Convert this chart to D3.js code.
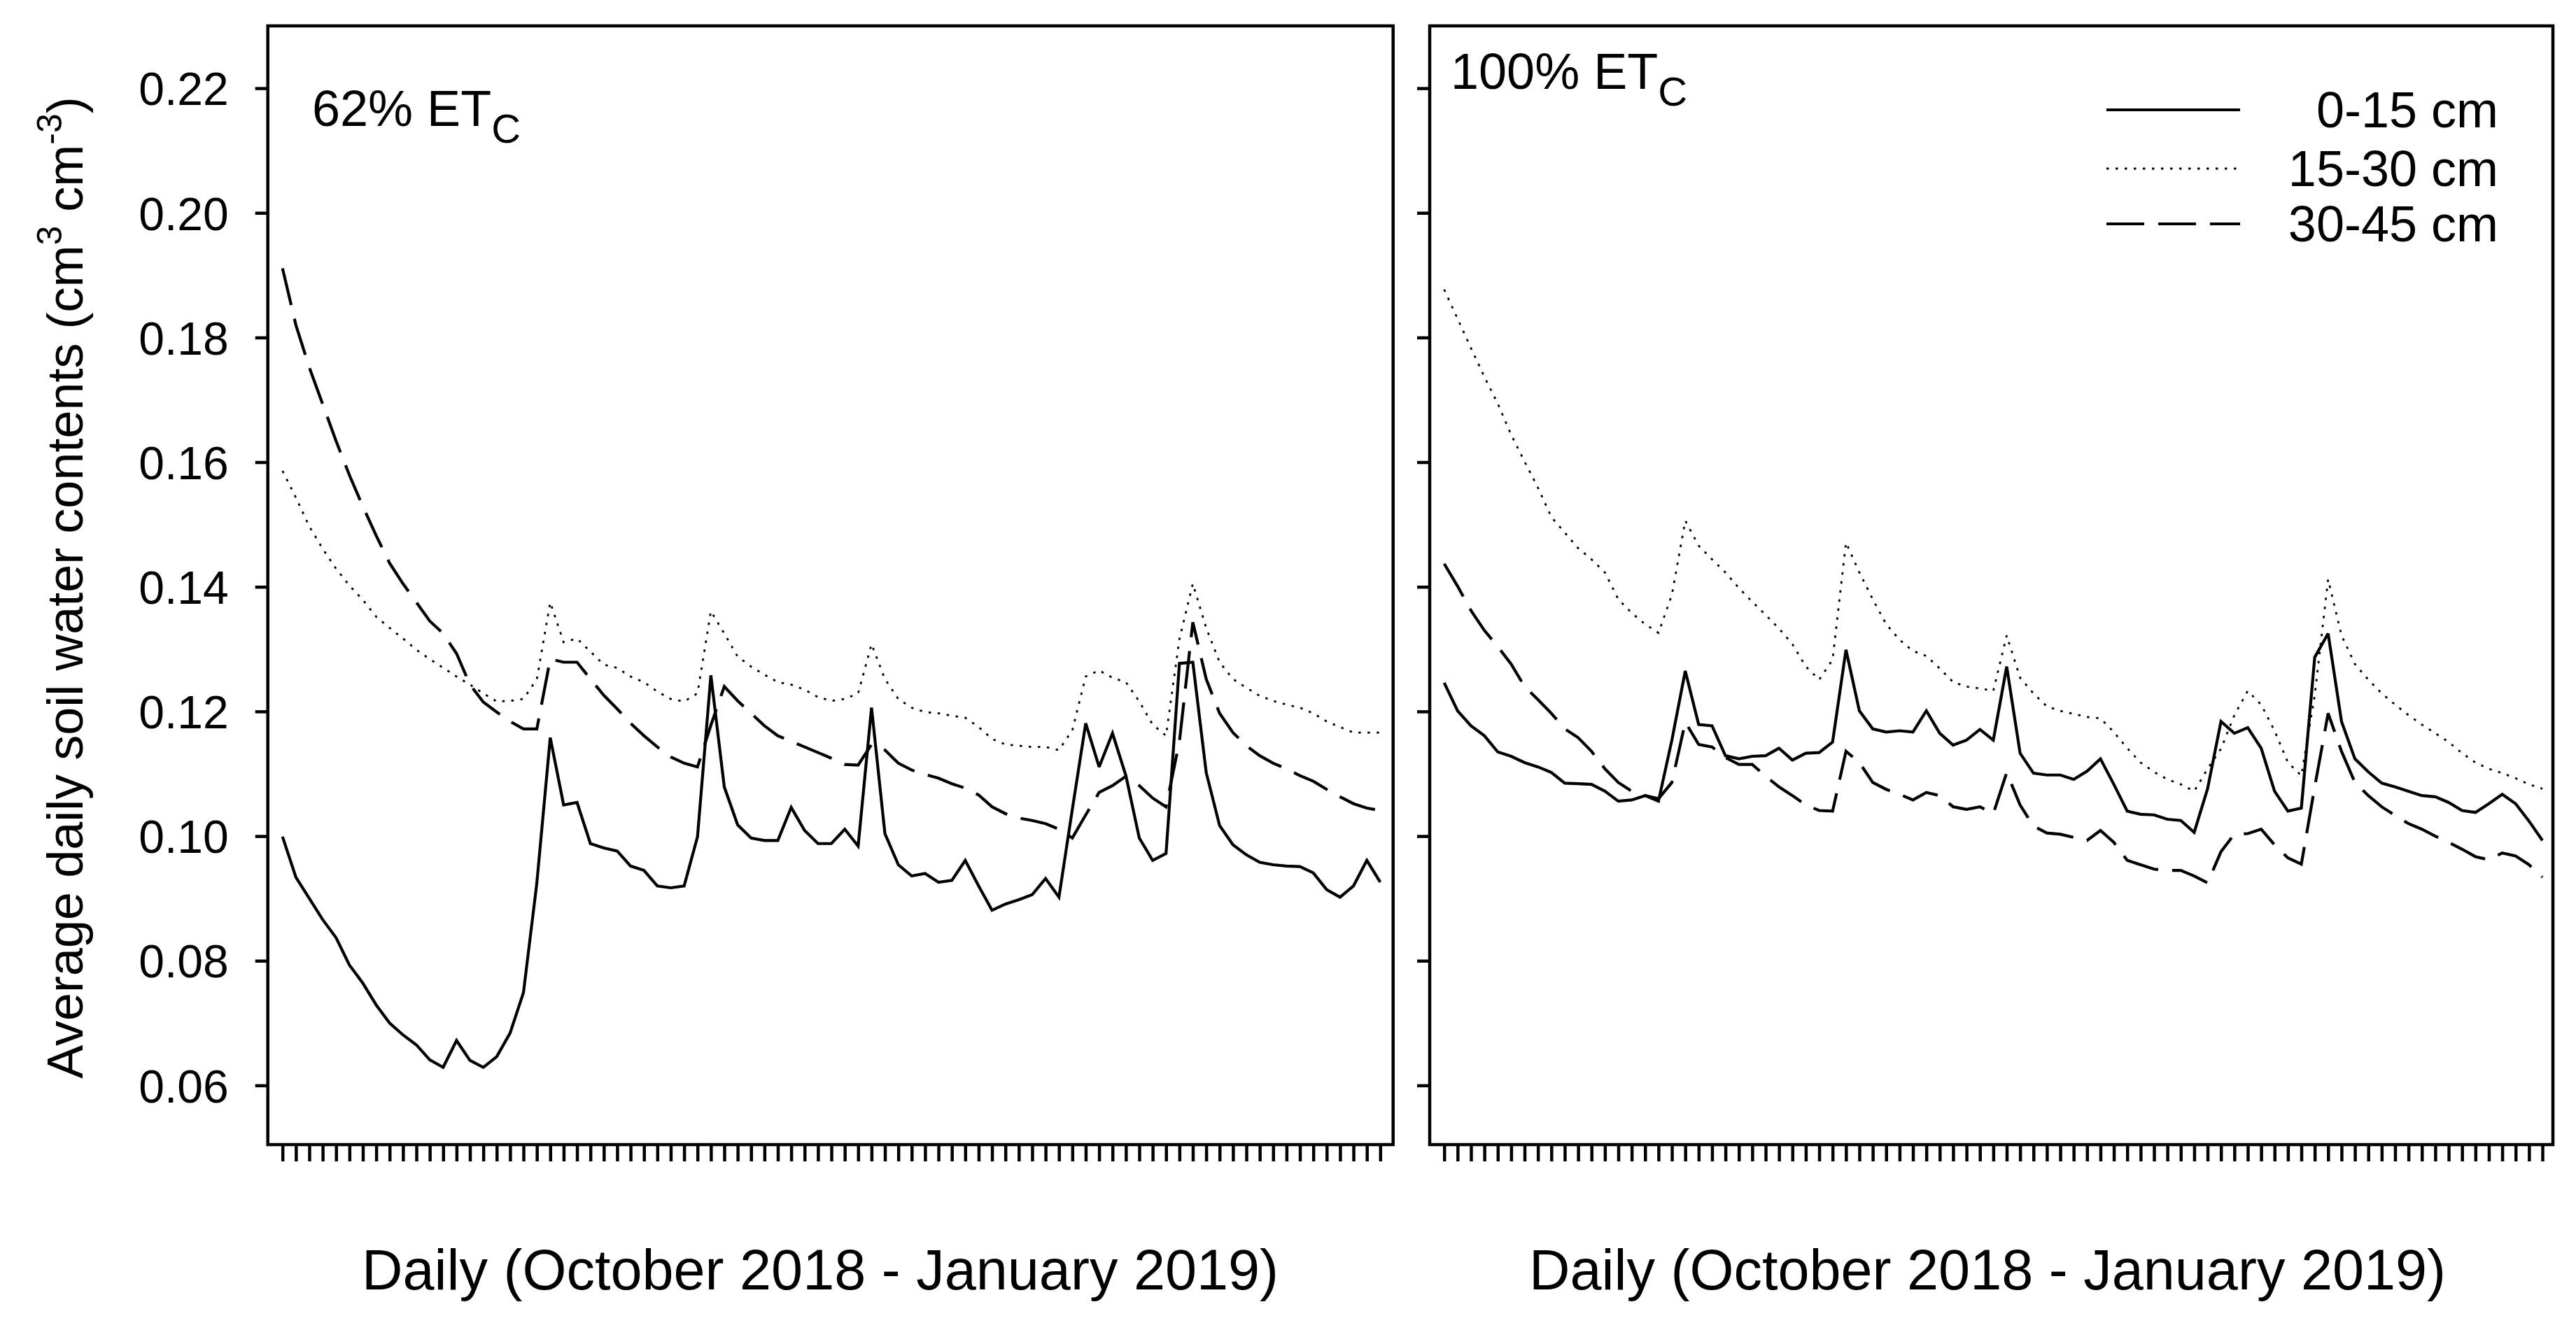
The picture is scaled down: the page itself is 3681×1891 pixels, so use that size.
<!DOCTYPE html>
<html>
<head>
<meta charset="utf-8">
<script src="https://cdn.jsdelivr.net/npm/d3@7/dist/d3.min.js"></script>
<style>
  html, body { margin: 0; padding: 0; background: #fff; }
  svg { display: block; }
  text { font-family: "Liberation Sans", Arial, Helvetica, sans-serif; fill: #000; }
</style>
</head>
<body>
<script>
// ---------------- DATA ----------------
const days = d3.range(83); // daily observations, October 2018 - January 2019
const yTicks = [0.06, 0.08, 0.10, 0.12, 0.14, 0.16, 0.18, 0.20, 0.22];
const seriesNames = ["0-15 cm", "15-30 cm", "30-45 cm"];
const panelTitles = ["62% ET", "100% ET"];

// 62% ETc
const et62_0_15 = [0.0999,0.0934,0.0900,0.0866,0.0837,0.0793,0.0764,0.0729,0.0700,0.0681,
  0.0665,0.0641,0.0629,0.0672,0.0640,0.0629,0.0646,0.0684,0.0749,0.0925,
  0.1158,0.1050,0.1054,0.0988,0.0981,0.0976,0.0952,0.0945,0.0920,0.0917,
  0.0920,0.0999,0.1258,0.1079,0.1018,0.0997,0.0993,0.0993,0.1046,0.1009,
  0.0988,0.0988,0.1011,0.0984,0.1206,0.1004,0.0954,0.0936,0.0940,0.0926,
  0.0929,0.0961,0.0920,0.0881,0.0891,0.0898,0.0906,0.0932,0.0902,0.1043,
  0.1181,0.1111,0.1165,0.1097,0.0997,0.0961,0.0972,0.1277,0.1279,0.1102,
  0.1017,0.0986,0.0970,0.0958,0.0954,0.0952,0.0951,0.0941,0.0914,0.0902,
  0.0920,0.0961,0.0926];
const et62_15_30 = [0.1586,0.1543,0.1497,0.1461,0.1429,0.1402,0.1379,0.1352,0.1334,0.1317,
  0.1299,0.1284,0.1270,0.1256,0.1243,0.1229,0.1216,0.1217,0.1220,0.1252,
  0.1375,0.1311,0.1317,0.1296,0.1275,0.1270,0.1256,0.1247,0.1232,0.1220,
  0.1216,0.1229,0.1361,0.1325,0.1288,0.1272,0.1259,0.1247,0.1243,0.1235,
  0.1223,0.1217,0.1220,0.1229,0.1308,0.1252,0.1220,0.1206,0.1199,0.1197,
  0.1193,0.1190,0.1175,0.1156,0.1147,0.1145,0.1143,0.1143,0.1138,0.1170,
  0.1256,0.1266,0.1254,0.1247,0.1216,0.1179,0.1161,0.1316,0.1405,0.1334,
  0.1279,0.1252,0.1238,0.1225,0.1217,0.1211,0.1206,0.1197,0.1184,0.1175,
  0.1166,0.1166,0.1166];
const et62_30_45 = [0.1911,0.1820,0.1752,0.1693,0.1634,0.1579,0.1529,0.1482,0.1438,0.1405,
  0.1375,0.1345,0.1325,0.1293,0.1243,0.1215,0.1199,0.1184,0.1172,0.1172,
  0.1284,0.1279,0.1279,0.1252,0.1226,0.1204,0.1181,0.1161,0.1143,0.1127,
  0.1117,0.1111,0.1178,0.1240,0.1217,0.1197,0.1177,0.1161,0.1152,0.1143,
  0.1134,0.1125,0.1115,0.1114,0.1147,0.1138,0.1117,0.1106,0.1099,0.1093,
  0.1084,0.1077,0.1066,0.1047,0.1036,0.1029,0.1025,0.1020,0.1011,0.0997,
  0.1034,0.1070,0.1081,0.1096,0.1081,0.1061,0.1047,0.1152,0.1343,0.1252,
  0.1197,0.1166,0.1145,0.1129,0.1117,0.1108,0.1097,0.1088,0.1075,0.1063,
  0.1052,0.1045,0.1041];

// 100% ETc
const et100_0_15 = [0.1246,0.1201,0.1177,0.1161,0.1135,0.1128,0.1118,0.1111,0.1102,0.1085,
  0.1084,0.1083,0.1072,0.1056,0.1058,0.1065,0.1056,0.1154,0.1265,0.1179,
  0.1177,0.1129,0.1124,0.1128,0.1129,0.1141,0.1122,0.1133,0.1134,0.1151,
  0.1299,0.1201,0.1172,0.1167,0.1169,0.1167,0.1201,0.1165,0.1146,0.1154,
  0.1171,0.1154,0.1272,0.1133,0.1101,0.1098,0.1098,0.1091,0.1104,0.1124,
  0.1083,0.1040,0.1035,0.1034,0.1027,0.1025,0.1006,0.1076,0.1184,0.1165,
  0.1174,0.1141,0.1072,0.1040,0.1045,0.1287,0.1325,0.1184,0.1124,0.1103,
  0.1085,0.1079,0.1072,0.1065,0.1063,0.1054,0.1041,0.1038,0.1052,0.1067,
  0.1052,0.1024,0.0993];
const et100_15_30 = [0.1877,0.1830,0.1783,0.1737,0.1694,0.1644,0.1601,0.1559,0.1512,0.1487,
  0.1462,0.1444,0.1423,0.1380,0.1358,0.1340,0.1326,0.1387,0.1506,0.1466,
  0.1444,0.1423,0.1398,0.1376,0.1355,0.1333,0.1308,0.1272,0.1251,0.1283,
  0.1471,0.1423,0.1380,0.1340,0.1315,0.1297,0.1289,0.1269,0.1247,0.1240,
  0.1237,0.1233,0.1322,0.1254,0.1229,0.1208,0.1201,0.1196,0.1191,0.1189,
  0.1167,0.1141,0.1118,0.1103,0.1091,0.1083,0.1072,0.1108,0.1140,0.1194,
  0.1233,0.1211,0.1169,0.1118,0.1097,0.1226,0.1412,0.1322,0.1276,0.1251,
  0.1229,0.1211,0.1194,0.1179,0.1165,0.1151,0.1133,0.1118,0.1108,0.1101,
  0.1093,0.1083,0.1076];
const et100_30_45 = [0.1437,0.1401,0.1362,0.1330,0.1304,0.1276,0.1240,0.1219,0.1197,0.1172,
  0.1158,0.1136,0.1108,0.1086,0.1072,0.1065,0.1060,0.1086,0.1183,0.1147,
  0.1143,0.1126,0.1115,0.1115,0.1096,0.1079,0.1065,0.1050,0.1041,0.1040,
  0.1136,0.1118,0.1086,0.1075,0.1067,0.1058,0.1070,0.1065,0.1047,0.1043,
  0.1047,0.1036,0.1102,0.1050,0.1016,0.1005,0.1003,0.0998,0.0993,0.1009,
  0.0990,0.0961,0.0954,0.0947,0.0945,0.0945,0.0936,0.0925,0.0975,0.1003,
  0.1004,0.1011,0.0986,0.0965,0.0955,0.1079,0.1197,0.1136,0.1086,0.1065,
  0.1047,0.1033,0.1020,0.1011,0.1000,0.0990,0.0979,0.0967,0.0962,0.0973,
  0.0968,0.0954,0.0934];

// ---------------- LAYOUT / STYLE ----------------
const W = 3681, H = 1891;
const frameTop = 37, frameBottom = 1636;
const panels = [
  { x0: 382.7, x1: 1990.7, first: 403.7, last: 1972.3, title: panelTitles[0], tx: 446, ty: 180, labels: true,
    series: [et62_0_15, et62_15_30, et62_30_45], xlabelCx: 1172 },
  { x0: 2043, x1: 3648, first: 2063.7, last: 3633, title: panelTitles[1], tx: 2073, ty: 127, labels: false,
    series: [et100_0_15, et100_15_30, et100_30_45], xlabelCx: 2840 }
];
const styles = [
  { dash: null, width: 4.2 },
  { dash: "3.5,9.5", width: 2.8 },
  { dash: "54,20", width: 4.2 }
];

const svg = d3.select("body").append("svg").attr("width", W).attr("height", H);
svg.append("rect").attr("width", W).attr("height", H).attr("fill", "#fff");

const y = d3.scaleLinear().domain([0.0505, 0.2300]).range([frameBottom, frameTop]);

panels.forEach((p) => {
  const x = d3.scaleLinear().domain([0, days.length - 1]).range([p.first, p.last]);
  const g = svg.append("g");

  // y axis
  const ya = g.append("g").attr("transform", `translate(${p.x0},0)`)
    .call(d3.axisLeft(y).tickValues(yTicks).tickSize(18).tickPadding(38)
      .tickFormat(p.labels ? d3.format(".2f") : () => ""));
  ya.select(".domain").remove();
  ya.selectAll(".tick line").attr("stroke", "#000").attr("stroke-width", 4.5);
  ya.selectAll(".tick text").attr("font-size", 66).attr("font-family", '"Liberation Sans", Arial, sans-serif')
    .attr("fill", "#000").attr("dy", "0.36em");

  // x axis
  const xa = g.append("g").attr("transform", `translate(0,${frameBottom})`)
    .call(d3.axisBottom(x).tickValues(days).tickSize(24).tickFormat(() => ""));
  xa.select(".domain").remove();
  xa.selectAll(".tick line").attr("stroke", "#000").attr("stroke-width", 4.5);

  // data lines
  const line = d3.line().x((d, i) => x(days[i])).y(d => y(d)).curve(d3.curveLinear);
  p.series.forEach((vals, k) => {
    g.append("path").datum(vals).attr("d", line)
      .attr("fill", "none").attr("stroke", "#000")
      .attr("stroke-width", styles[k].width)
      .attr("stroke-dasharray", styles[k].dash)
      .attr("stroke-linejoin", "miter").attr("stroke-miterlimit", 3);
  });

  // frame
  g.append("rect").attr("x", p.x0).attr("y", frameTop)
    .attr("width", p.x1 - p.x0).attr("height", frameBottom - frameTop)
    .attr("fill", "none").attr("stroke", "#000").attr("stroke-width", 4.5);

  // panel title with subscript
  const t = g.append("text").attr("x", p.tx).attr("y", p.ty).attr("font-size", 72);
  t.append("tspan").text(p.title);
  t.append("tspan").attr("font-size", 58).attr("dy", 24).text("C");

  // x axis label
  g.append("text").attr("x", p.xlabelCx).attr("y", 1843).attr("text-anchor", "middle")
    .attr("font-size", 81).text("Daily (October 2018 - January 2019)");
});

// y axis label
const yl = svg.append("text")
  .attr("transform", "translate(118,840) rotate(-90)")
  .attr("text-anchor", "middle").attr("font-size", 72);
yl.append("tspan").text("Average daily soil water contents (cm");
yl.append("tspan").attr("font-size", 50).attr("dy", -30).text("3");
yl.append("tspan").attr("dy", 30).text(" cm");
yl.append("tspan").attr("font-size", 50).attr("dy", -30).text("-3");
yl.append("tspan").attr("dy", 30).text(")");

// legend (in right panel)
const legY = [157, 241, 320];
const leg = svg.append("g");
seriesNames.forEach((name, k) => {
  leg.append("line").attr("x1", 3010).attr("x2", 3201).attr("y1", legY[k]).attr("y2", legY[k])
    .attr("stroke", "#000").attr("stroke-width", styles[k].width)
    .attr("stroke-dasharray", styles[k].dash);
  leg.append("text").attr("x", 3570).attr("y", legY[k] + 25).attr("text-anchor", "end")
    .attr("font-size", 72).text(name);
});
</script>
</body>
</html>
